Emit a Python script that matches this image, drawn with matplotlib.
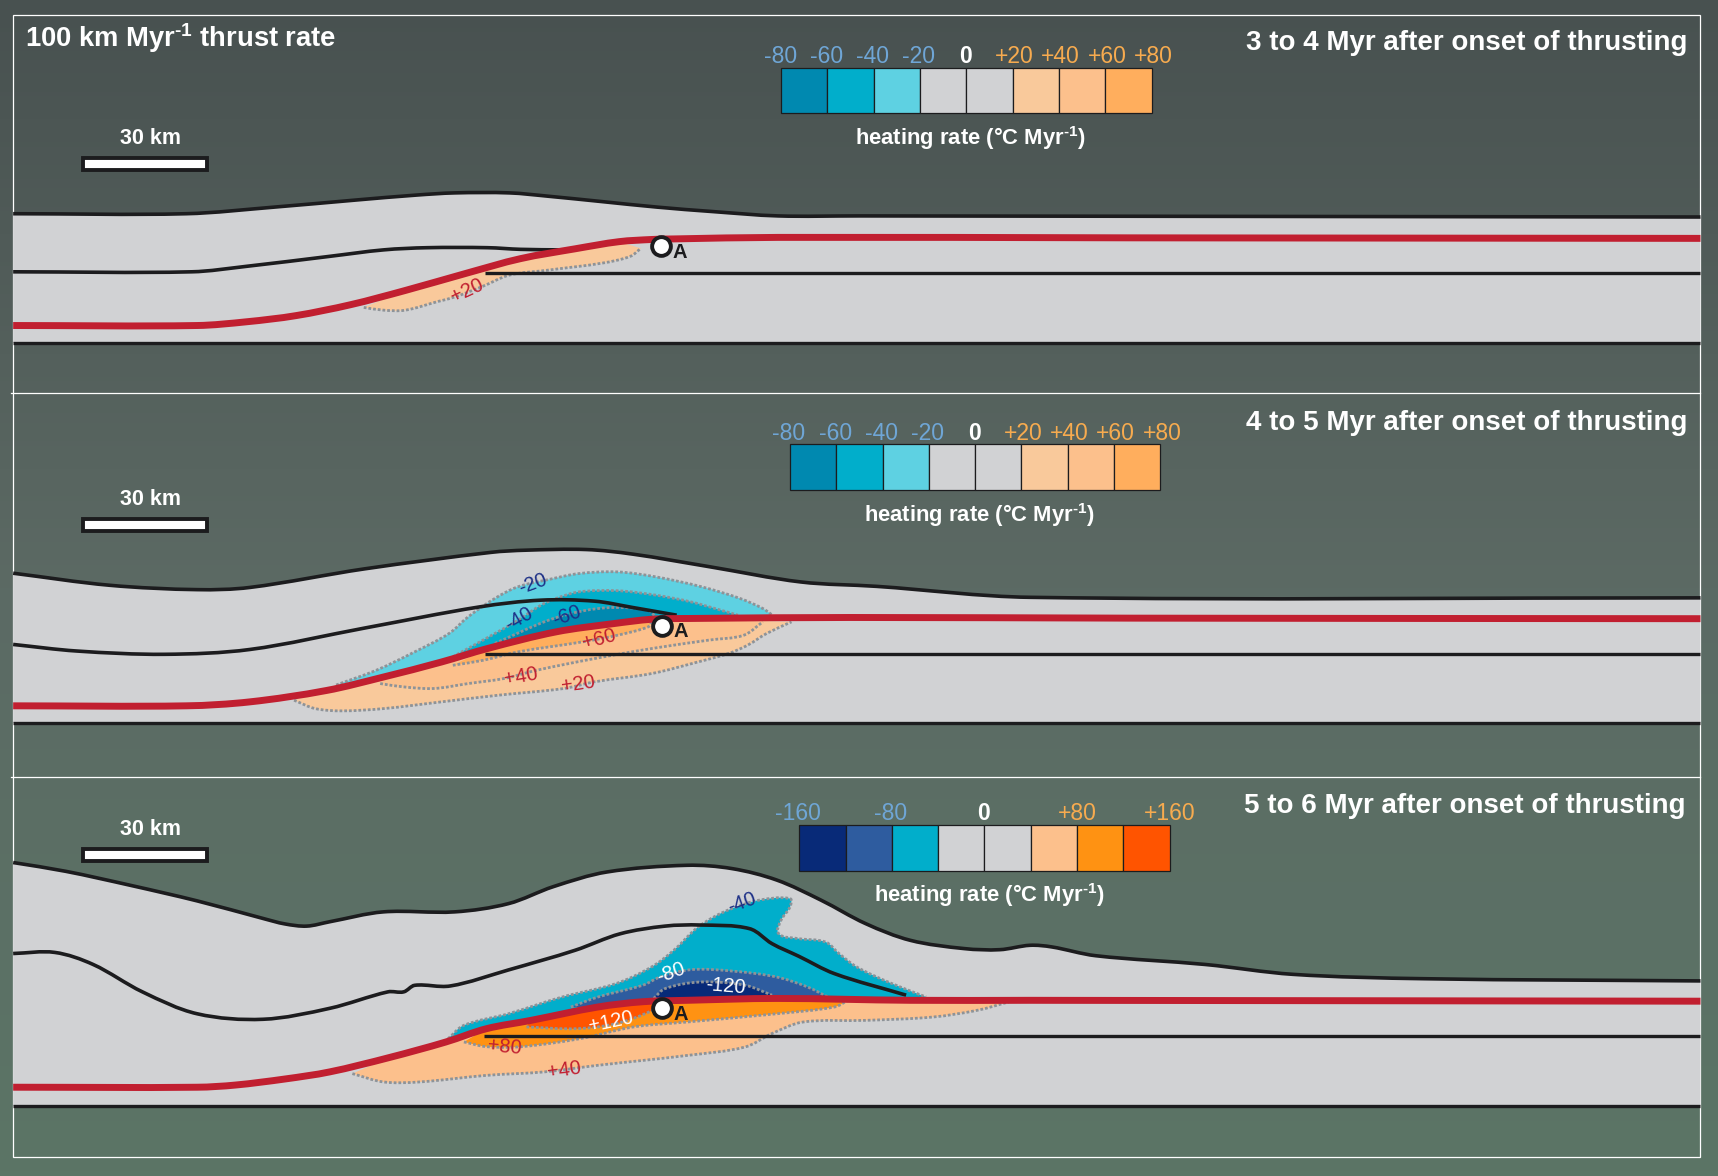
#!/usr/bin/env python3
"""Heating rate cross sections for a thrust fault, three time slices."""
import matplotlib

matplotlib.use("Agg")
import matplotlib.pyplot as plt  # noqa: E402
import numpy as np  # noqa: E402
from matplotlib.colors import LinearSegmentedColormap  # noqa: E402
from matplotlib.patches import PathPatch, Rectangle  # noqa: E402
from matplotlib.path import Path  # noqa: E402

plt.rcParams["font.family"] = ["Liberation Sans", "DejaVu Sans"]
plt.rcParams["mathtext.default"] = "regular"

GREY = "#d1d2d4"
RED = "#c11f30"
INK = "#1c1c1e"
DOT = "#8e9398"
NAVY = "#1c2f86"
BLUE_TXT = "#6fa6d6"
ORANGE_TXT = "#f7ab4f"
C20, C40, C60 = "#f9c99b", "#fcc08c", "#ffae5d"
C80, C120 = "#ff9212", "#ff5400"
B20, B40, B60 = "#5ed1e2", "#01aecb", "#0089b0"
B80, B120 = "#2e5c9f", "#082a78"

# section geometry on a 1568 x 1073 grid
p1_top = [(12, 195), (170, 195), (250, 189), (325, 182.5), (380, 178), (415, 176), (465, 176), (500, 179),
          (550, 184), (600, 189), (650, 193), (710, 197), (784, 197), (1552, 198)]
p1_hanging = [(12, 248), (175, 248), (225, 243), (300, 234), (350, 228), (390, 226), (445, 226), (475, 227.5),
              (513, 228)]
p1_foot = [(443, 249.5), (1552, 249.5)]
p1_thrust = [(12, 297), (180, 297), (225, 293.6), (270, 288), (320, 278), (370, 265), (425, 249.5), (475, 236),
             (525, 227), (565, 220.5), (595, 218.5), (615, 218), (710, 216.6), (1030, 217), (1552, 217.5)]
p1_base = 313
p1_contours = [
    (C20, [(332, 280.5), (350, 283), (370, 283), (400, 275), (415, 271), (440, 261.5), (465, 251), (500, 246.5),
           (550, 240), (575, 234), (585, 226.6)]),
]
p1_labels = [("+20", 426, 265, 25, RED)]

p2_top = [(12, 523), (100, 534), (180, 538), (228, 536), (333, 519), (448, 504), (480, 502), (535, 501.4),
          (577.5, 505.6), (647, 517), (731, 531), (800, 535), (940, 545), (1552, 545.5)]
p2_hanging = [(12, 588), (70, 594), (150, 597), (228, 592.6), (333, 573), (438, 553.7), (493.6, 547.6),
              (542.6, 548.5), (577.5, 554.3), (617.6, 561.3)]
p2_foot = [(443, 596.3), (1552, 596.3)]
p2_thrust = [(12, 644), (170, 644), (228, 640.4), (298, 630), (350.5, 617.6), (403, 604), (445, 591.7),
             (507.6, 576.5), (560, 569), (595, 565), (630, 564.3), (776, 563.4), (1030, 564), (1552, 564.5)]
p2_base = 659.6
p2_contours = [
    (C20, [(268.4, 638.9), (287.6, 646.5), (312, 648.6), (350.5, 646.5), (402.8, 640.4), (455, 634.3),
           (514.6, 628.2), (542.6, 622.1), (595, 614.5), (636.9, 604), (664.8, 596.3), (682.3, 588.7),
           (699.7, 578), (722.4, 567.4)]),
    (C40, [(347, 623.7), (368, 626.7), (395.9, 628.2), (427.3, 623.7), (460.5, 619), (490, 611.5), (542.6, 600.9),
           (595, 591.7), (647.3, 584), (678.8, 579.6), (696.2, 567.4)]),
    (C60, [(413.3, 607), (441.3, 602.4), (472.7, 594.8), (532, 585.6), (563.5, 579.6), (591.5, 572), (595, 567)]),
    (B20, [(306.8, 625), (343.5, 611.5), (378.4, 594.8), (409.8, 578), (427.3, 562.8), (451.7, 546),
           (472.7, 535.4), (500.6, 528.8), (528.6, 523.3), (563.5, 521.8), (598.4, 526.3), (640.4, 535.4),
           (675.3, 546), (696.2, 555.2), (705, 561.3)]),
    (B40, [(413.3, 599.3), (451.7, 578), (472.7, 565.9), (493.7, 552.2), (507.6, 546), (528.6, 540), (563.5, 539),
           (598.4, 543), (629.9, 549), (657.8, 556.7), (673.5, 561.3)]),
    (B60, [(451.7, 587), (500.6, 565.9), (532, 557.4), (560, 554.3), (591.5, 556.7), (598.4, 563)]),
]
p2_labels = [("-20", 486, 533, 20, NAVY), ("-40", 474, 565, 30, NAVY), ("-60", 517, 562, 20, NAVY),
             ("+60", 547, 583, 15, RED), ("+40", 475, 617, 10, RED), ("+20", 528, 624, 8, RED)]

p3_top = [(12, 787), (60, 795), (120, 808), (180, 822), (240, 838), (260, 843), (280, 845), (301, 841), (350, 832),
          (415, 832), (464, 824.5), (505, 809), (554, 795.6), (627, 789.5), (668, 792.5), (709, 803), (749.5, 821.4),
          (790, 842.7), (831, 858), (880, 865.5), (912.5, 866.5), (940, 862.5), (960, 864), (1000, 872), (1100, 880),
          (1180, 889), (1300, 893), (1552, 895)]
p3_hanging = [(12, 870), (50, 869), (85, 880), (130, 905), (180, 925), (240, 930), (301, 920), (354, 905),
              (368.4, 905), (378.6, 899), (411, 899.6), (464, 885), (525, 867), (566, 852), (607, 845), (639, 844),
              (684, 847.3), (704.6, 861), (729, 872.5), (761.7, 888.4), (827, 908)]
p3_foot = [(442, 945), (1552, 945)]
p3_thrust = [(12, 992), (180, 992), (215, 990), (260, 984.5), (301, 978), (355, 965), (407, 950.7), (444, 938.6),
             (484.6, 931), (545.7, 918.8), (586.5, 914), (627, 912.7), (708.7, 911), (831, 912.7), (940, 912.7),
             (1552, 913.5)]
p3_base = 1009.4
p3_contours = [
    (C40, [(321.6, 979.6), (350, 987.2), (382.7, 987.2), (443.8, 981.2), (497, 978), (545.7, 972), (627.2, 963),
           (680, 955.3), (704.6, 943), (733, 932.5), (790, 931), (851, 928), (892, 921.8), (920.6, 914.2)]),
    (C80, [(423.4, 950.7), (444, 955), (476, 955), (529.4, 947.7), (578.3, 937), (627.2, 932.5), (708.7, 925),
           (761.7, 918.8), (774, 912.7)]),
    (C120, [(480.5, 937), (525.3, 938.6), (562, 934), (595, 922), (598.7, 915.8)]),
    (B40, [(409, 947.7), (423.4, 935.5), (464.2, 924.9), (513, 909.7), (562, 897.5), (594.6, 882.3), (615, 867),
           (635.3, 847.3), (651.6, 836.6), (668, 829), (692.4, 821.4), (721, 819.9), (721, 827.5), (712.8, 839.7),
           (710.7, 851.9), (729, 856.4), (753.5, 859.5), (765.7, 870), (782, 882.3), (810.6, 896), (845.2, 909.7)]),
    (B80, [(521, 918.8), (545.7, 909.7), (586.5, 899), (602.7, 891.4), (631, 884.7), (668, 886), (708.7, 891.4),
           (737, 900.5), (755.6, 909.7)]),
    (B120, [(596.6, 911), (607, 902), (639.4, 896), (680, 899), (704.6, 908)]),
]
p3_labels = [("-40", 677, 824, 20, NAVY), ("-80", 612, 888, 20, "white"), ("-120", 662, 900, -5, "white"),
             ("+120", 558, 932, 12, "white"), ("+80", 460, 955, -5, RED), ("+40", 515, 976, 8, RED)]

legend_ticks_fine = ["-80", "-60", "-40", "-20", "0", "+20", "+40", "+60", "+80"]
legend_colors_fine = [B60, B40, B20, GREY, GREY, C20, C40, C60]
legend_ticks_wide = ["-160", "-80", "0", "+80", "+160"]
legend_colors_wide = [B120, B80, B40, GREY, GREY, C40, C80, C120]
titles = ["3 to 4 Myr after onset of thrusting", "4 to 5 Myr after onset of thrusting",
          "5 to 6 Myr after onset of thrusting"]


def smooth_path(points):
    """Bezier path through the points, tangents scaled to each segment length."""
    pts = np.asarray(points, dtype=float)
    tangents = []
    for i in range(len(pts)):
        chord = pts[min(i + 1, len(pts) - 1)] - pts[max(i - 1, 0)]
        tangents.append(chord / np.hypot(*chord))
    verts = [pts[0]]
    codes = [Path.MOVETO]
    for i in range(len(pts) - 1):
        span = np.hypot(*(pts[i + 1] - pts[i])) / 3
        verts += [pts[i] + tangents[i] * span, pts[i + 1] - tangents[i + 1] * span, pts[i + 1]]
        codes += [Path.CURVE4] * 3
    return Path(verts, codes)


def add_curve(ax, points, color, lw, zorder, **kwargs):
    ax.add_patch(PathPatch(smooth_path(points), fc="none", ec=color, lw=lw, zorder=zorder, **kwargs))


def closed_shape(outline, closing):
    """Outline followed by the closing points, as one filled path."""
    path = smooth_path(outline)
    verts = list(path.vertices) + [tuple(p) for p in closing] + [path.vertices[0]]
    codes = list(path.codes) + [Path.LINETO] * len(closing) + [Path.CLOSEPOLY]
    return Path(verts, codes)


def draw_section(ax, top, hanging, foot, thrust, base, contours, labels):
    thrust_pts = np.asarray(thrust, dtype=float)
    body = closed_shape(top, [(1552, base), (12, base)])
    ax.add_patch(PathPatch(body, fc=GREY, ec="none", zorder=2))

    for order, (color, outline) in enumerate(contours):
        first, last = outline[0][0], outline[-1][0]
        between = thrust_pts[(thrust_pts[:, 0] > first) & (thrust_pts[:, 0] < last)][::-1]
        closing = [outline[-1]] + [tuple(p) for p in between]
        ax.add_patch(PathPatch(closed_shape(outline, closing), fc=color, ec="none", zorder=3 + order * 0.01))
        add_curve(ax, outline, DOT, 2.0, 3.5, linestyle=(0, (1, 0.7)))

    add_curve(ax, top, INK, 2.6, 4)
    add_curve(ax, hanging, INK, 2.6, 4)
    ax.plot(*zip(*foot), color=INK, lw=2.4, zorder=4, solid_capstyle="butt")
    ax.plot([12, 1552], [base, base], color=INK, lw=2.4, zorder=4, solid_capstyle="butt")
    add_curve(ax, thrust, RED, 5.0, 5)

    for text, x, y, angle, color in labels:
        ax.text(x, y, text, color=color, fontsize=14.5, rotation=angle, ha="center", va="center", zorder=7)


def draw_marker(ax, x, y):
    ax.plot([x], [y], "o", ms=13.5, mfc="white", mec=INK, mew=2.8, zorder=6)
    ax.text(x + 17, y + 5.5, "A", color=INK, fontsize=14.5, fontweight="bold", ha="center", va="center", zorder=7)


def draw_scale_bar(ax, y):
    ax.add_patch(Rectangle((76, y), 113, 11, fc="white", ec=INK, lw=2.8, zorder=5))
    ax.text(137, y - 18, "30 km", color="white", fontsize=15.5, fontweight="bold", ha="center", va="center")


def draw_legend(ax, left, top, colors, ticks, tick_y, caption_x, caption_y):
    cell = 338 / len(colors)
    for i, color in enumerate(colors):
        ax.add_patch(Rectangle((left + i * cell, top), cell, 41.5, fc=color, ec=INK, lw=0.9, zorder=5))
    step = len(colors) / (len(ticks) - 1)
    plus_shift = 2.5 if len(ticks) == 9 else 1
    for i, tick in enumerate(ticks):
        x = left - 1 + i * step * cell
        if tick == "0":
            color, weight = "white", "bold"
        elif tick.startswith("-"):
            color, weight = BLUE_TXT, "normal"
        else:
            color, weight = ORANGE_TXT, "normal"
            x += plus_shift
        ax.text(x, tick_y, tick, color=color, fontsize=16.5, fontweight=weight, ha="center", va="center")
    ax.text(caption_x, caption_y, "heating rate (°C Myr$^{\u20101}$)", color="white", fontsize=15.8,
            fontweight="bold", ha="center", va="center")


def main():
    fig = plt.figure(figsize=(17.18, 11.76), dpi=100)
    ax = fig.add_axes([0, 0, 1, 1])

    cmap = LinearSegmentedColormap.from_list("backdrop", ["#485150", "#5c6a64", "#5b7566"])
    ax.imshow(np.linspace(0, 1, 256)[:, None], cmap=cmap, aspect="auto", extent=(0, 1568, 1073, 0), zorder=0)
    ax.set_xlim(0, 1568)
    ax.set_ylim(1073, 0)
    ax.axis("off")

    ax.add_patch(Rectangle((12, 14), 1540, 1042, fc="none", ec="white", lw=0.9, zorder=1))
    for y in (358.5, 708.5):
        ax.plot([10, 1552], [y, y], color="white", lw=0.9, zorder=1)

    draw_section(ax, p1_top, p1_hanging, p1_foot, p1_thrust, p1_base, p1_contours, p1_labels)
    draw_section(ax, p2_top, p2_hanging, p2_foot, p2_thrust, p2_base, p2_contours, p2_labels)
    draw_section(ax, p3_top, p3_hanging, p3_foot, p3_thrust, p3_base, p3_contours, p3_labels)

    draw_marker(ax, 603.5, 224.5)
    draw_marker(ax, 604.5, 571)
    draw_marker(ax, 604, 920)

    draw_scale_bar(ax, 144.5)
    draw_scale_bar(ax, 473.5)
    draw_scale_bar(ax, 774.5)

    draw_legend(ax, 713, 62, legend_colors_fine, legend_ticks_fine, 51.5, 886, 126)
    draw_legend(ax, 721, 405.5, legend_colors_fine, legend_ticks_fine, 395.5, 894, 470)
    draw_legend(ax, 729.5, 753, legend_colors_wide, legend_ticks_wide, 742.5, 903, 817)

    ax.text(23, 35, "100 km Myr$^{\u20101}$ thrust rate", color="white", fontsize=19.7, fontweight="bold",
            ha="left", va="center")
    ax.text(1540, 39, titles[0], color="white", fontsize=20, fontweight="bold", ha="right", va="center")
    ax.text(1540, 386, titles[1], color="white", fontsize=20, fontweight="bold", ha="right", va="center")
    ax.text(1538, 735, titles[2], color="white", fontsize=20, fontweight="bold", ha="right", va="center")

    fig.savefig("out.png", dpi=100)
    plt.close(fig)


if __name__ == "__main__":
    main()
